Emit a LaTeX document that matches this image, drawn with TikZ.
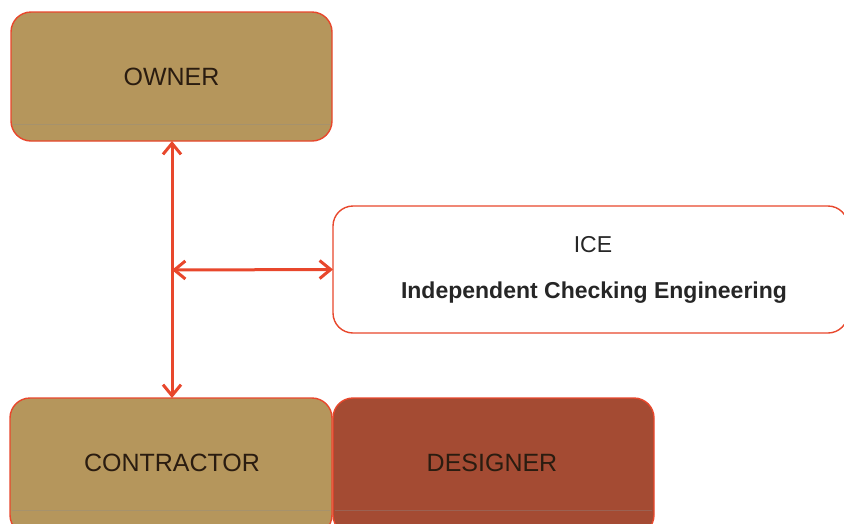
\documentclass[tikz,border=0pt]{standalone}
\usepackage{fontspec}
\setmainfont{Liberation Sans}
\usetikzlibrary{arrows.meta}
\definecolor{tan}{HTML}{B5965C}
\definecolor{brick}{HTML}{A44B33}
\definecolor{edge}{HTML}{E8472C}
\definecolor{ink}{HTML}{2A1C10}
\tikzset{
  box/.style={rectangle, rounded corners=20pt, draw=edge, line width=1.4pt,
    outer sep=0pt, inner sep=0pt, font=\fontsize{25}{28}\selectfont, text=ink},
  label/.style={font=\fontsize{25}{28}\selectfont, text=ink},
  band/.style={draw=black!45, line width=1pt, opacity=0.35},
  link/.style={draw=edge, line width=3pt,
    {Straight Barb[length=11pt,width=18pt,line width=3pt]}-{Straight Barb[length=11pt,width=18pt,line width=3pt]}}
}
\begin{document}
\begin{tikzpicture}[x=1pt,y=-1pt]
\useasboundingbox (0,0) rectangle (844,523);
\clip (0,0) rectangle (844,523);
% boxes
\node[box, fill=tan, minimum width=321pt, minimum height=129pt] (owner) at (171.5,76.5) {OWNER};
\node[box, fill=white, minimum width=515pt, minimum height=127pt] (ice) at (590.5,269.5) {};
\node[font=\fontsize{23}{26}\selectfont, text=black!85] (icet) at (593,245) {ICE};
\node[font=\bfseries\fontsize{23}{26}\selectfont, text=black!85] (icef) at (594,293) {Independent Checking Engineering};
\node[box, fill=tan, minimum width=322pt, minimum height=137pt] (contractor) at (171,466.5) {};
\node[label] (ctext) at (172,463) {CONTRACTOR};
\node[box, fill=brick, minimum width=321pt, minimum height=137pt] (designer) at (493.5,466.5) {};
\node[label] (dtext) at (492,463) {DESIGNER};
% faint shading bands near the lower edges
\draw[band] ([xshift=2pt]owner.west |- 0,124) -- ([xshift=-2pt]owner.east |- 0,124);
\draw[band] ([xshift=2pt]contractor.west |- 0,510) -- ([xshift=-2pt]contractor.east |- 0,510);
\draw[band] ([xshift=2pt]designer.west |- 0,510) -- ([xshift=-2pt]designer.east |- 0,510);
% connectors
\coordinate (j) at (172,270);
\draw[link] (owner.south -| j) -- (contractor.north -| j);
\draw[link] (j) -- (ice.west);
\end{tikzpicture}
\end{document}
